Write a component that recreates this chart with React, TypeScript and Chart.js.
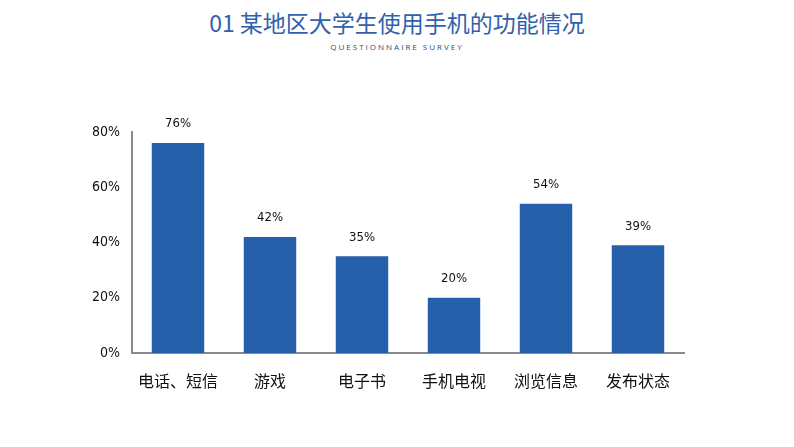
import React, { useEffect, useRef } from "react";
import { Chart, registerables } from "chart.js";

Chart.register(...registerables);

const categories = ["电话、短信", "游戏", "电子书", "手机电视", "浏览信息", "发布状态"];
const values = [76, 42, 35, 20, 54, 39];
const yTicks = [0, 20, 40, 60, 80];
const titleText = "01 某地区大学生使用手机的功能情况";
const subtitleText = "QUESTIONNAIRE SURVEY";

const barColor = "#2660AA";
const numFont = "'DejaVu Sans Condensed', 'Liberation Sans Narrow', sans-serif";

export default function App() {
  const ref = useRef<HTMLCanvasElement | null>(null);

  useEffect(() => {
    if (!ref.current) return;
    const labelPlugin = {
      id: "barLabels",
      afterDatasetsDraw(chart: any) {
        const ctx = chart.ctx;
        const meta = chart.getDatasetMeta(0);
        ctx.save();
        ctx.fillStyle = "#111";
        ctx.font = "13px " + numFont;
        ctx.textAlign = "center";
        ctx.textBaseline = "middle";
        meta.data.forEach((bar: any, i: number) => {
          ctx.fillText(values[i] + "%", bar.x, bar.y - 19);
        });
        ctx.restore();
      },
    };
    const chart = new Chart(ref.current, {
      type: "bar",
      data: {
        labels: categories,
        datasets: [
          {
            data: values,
            backgroundColor: barColor,
            borderWidth: 0,
            barPercentage: 0.57,
            categoryPercentage: 1,
          },
        ],
      },
      options: {
        animation: false,
        responsive: false,
        maintainAspectRatio: false,
        layout: { padding: { top: 132, right: 110, bottom: 0, left: 0 } },
        plugins: {
          legend: { display: false },
          tooltip: { enabled: false },
          title: { display: false },
        },
        scales: {
          x: {
            grid: { display: false, drawTicks: false },
            border: { display: true, color: "#8a8a8a", width: 2 },
            ticks: {
              padding: 18,
              color: "#111",
              font: { family: "'Noto Sans CJK SC', sans-serif", size: 16 },
              maxRotation: 0,
              autoSkip: false,
            },
            afterFit: (s: any) => {
              s.height = 94;
            },
          },
          y: {
            min: 0,
            max: 80,
            afterBuildTicks: (s: any) => {
              s.ticks = yTicks.map((v) => ({ value: v }));
            },
            grid: { display: false, drawTicks: false },
            border: { display: true, color: "#8a8a8a", width: 2 },
            ticks: {
              padding: 12,
              color: "#111",
              font: { family: numFont, size: 14 },
              callback: (v: any) => v + "%",
            },
            afterFit: (s: any) => {
              s.width = 132;
            },
          },
        },
      },
      plugins: [labelPlugin],
    });
    return () => chart.destroy();
  }, []);

  return (
    <div style={{ position: "absolute", left: 0, top: 0, width: 794, height: 447, background: "#fff", overflow: "hidden" }}>
      <div
        style={{
          position: "absolute",
          top: 5,
          left: 0,
          width: 794,
          textAlign: "center",
          fontFamily: "'Noto Sans CJK SC', 'Noto Sans', sans-serif",
          fontSize: 23,
          lineHeight: "34px",
          color: "#3161AC",
        }}
      >
        {titleText}
      </div>
      <div
        style={{
          position: "absolute",
          top: 41,
          left: 0,
          width: 794,
          textAlign: "center",
          fontFamily: "'Open Sans', 'Noto Sans', sans-serif",
          fontSize: 8,
          letterSpacing: 2,
          lineHeight: "12px",
          color: "#2F4A7A",
        }}
      >
        {subtitleText}
      </div>
      <canvas ref={ref} width={794} height={447} style={{ position: "absolute", left: 0, top: 0 }} />
    </div>
  );
}
